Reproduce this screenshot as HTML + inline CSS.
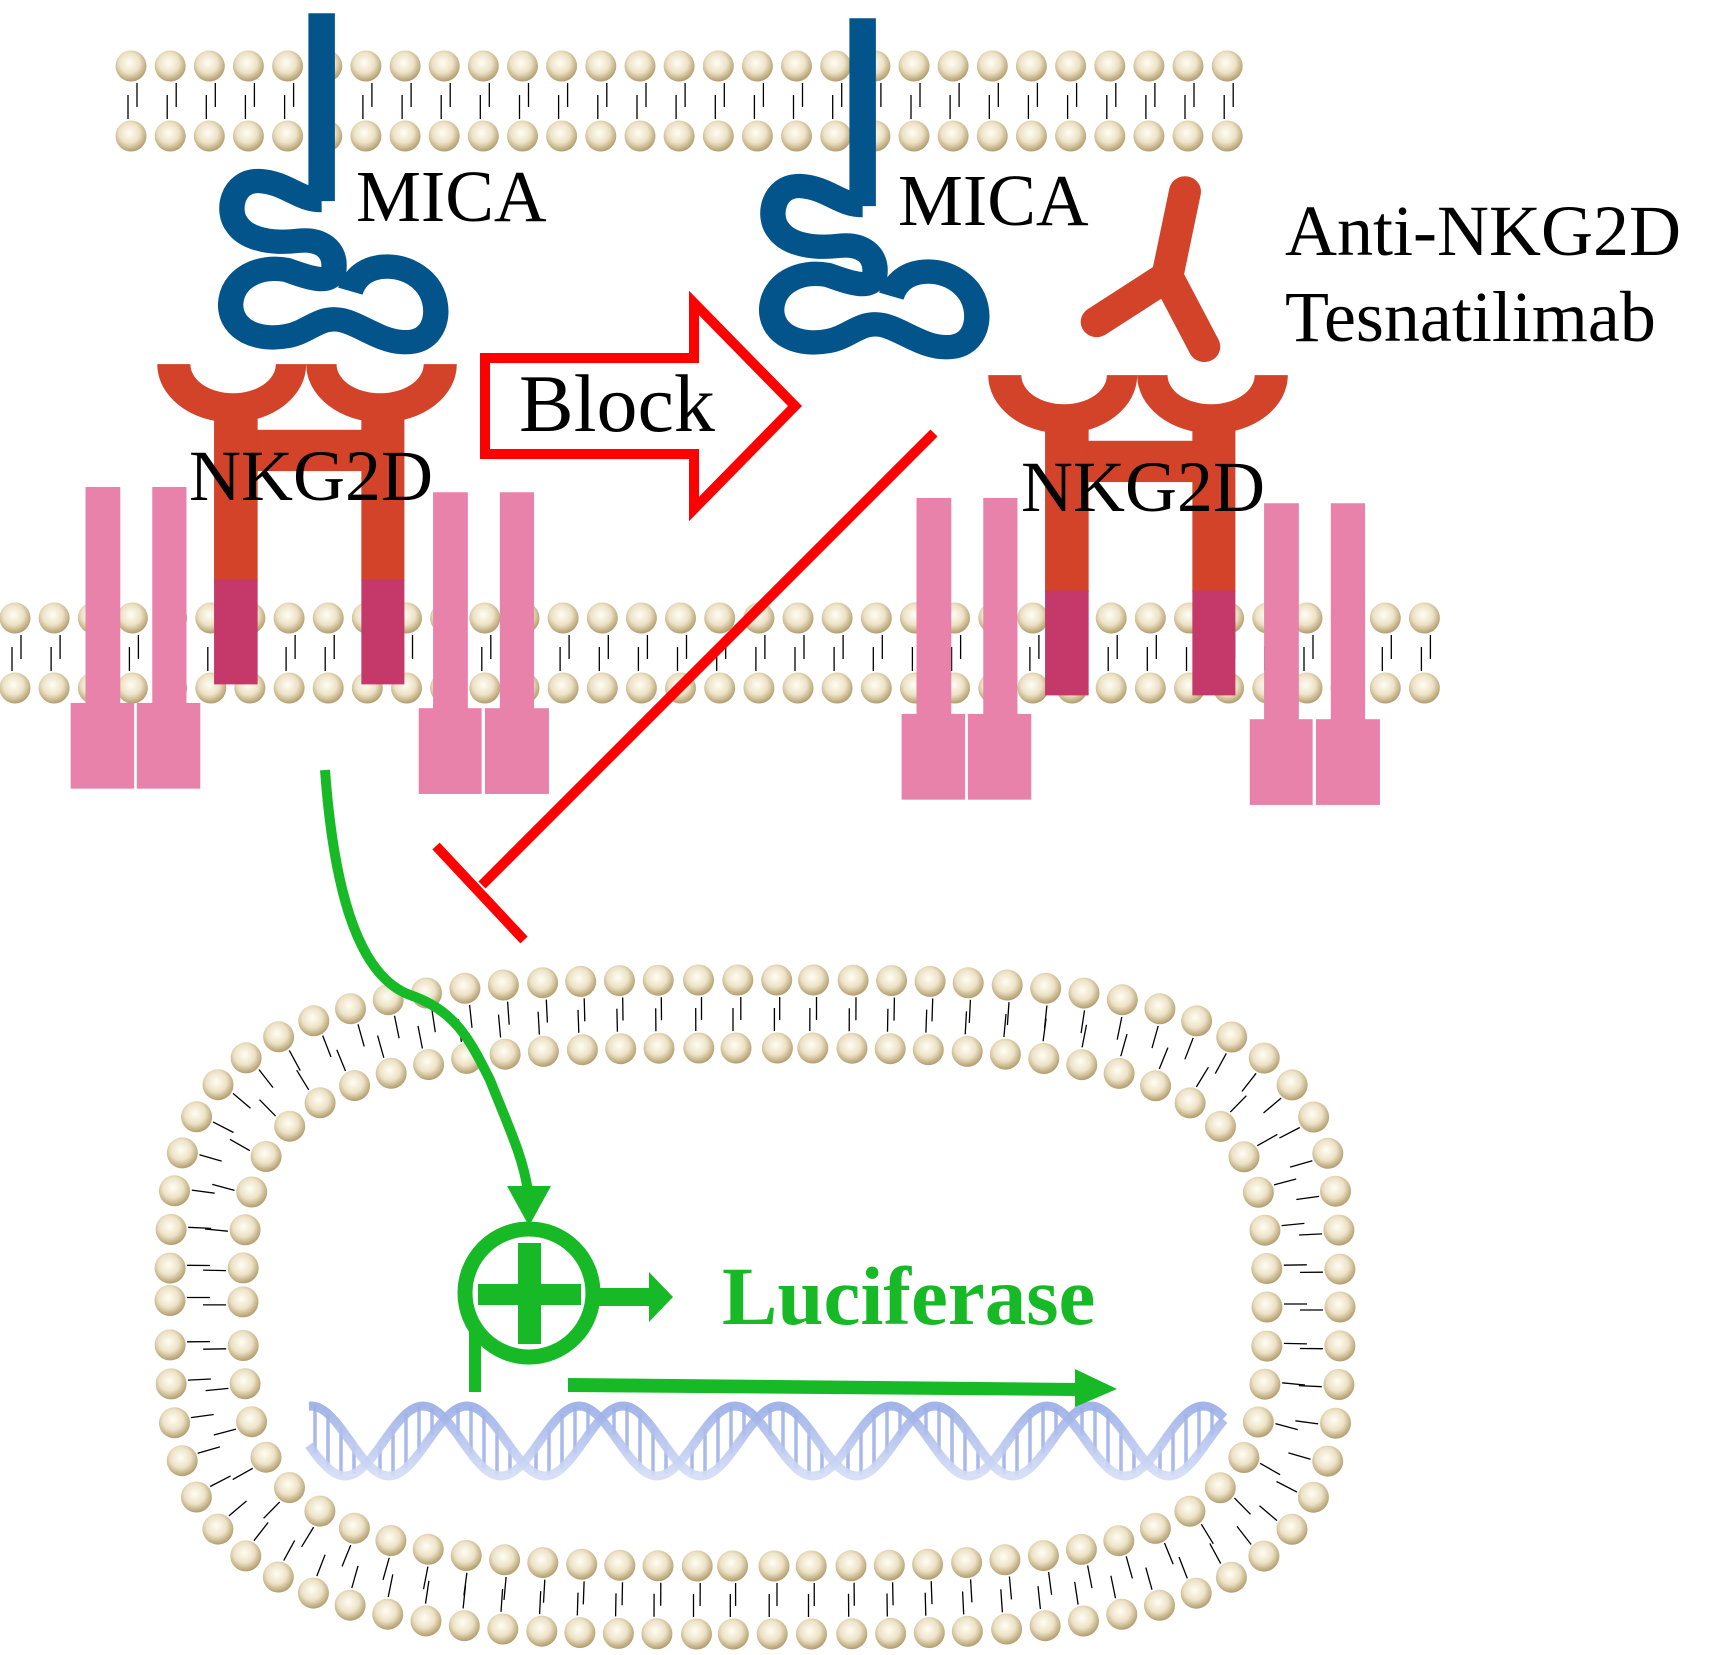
<!DOCTYPE html>
<html><head><meta charset="utf-8"><style>
html,body{margin:0;padding:0;background:#fff;}
svg{display:block;}
text{font-family:"Liberation Serif",serif;}
</style></head><body>
<svg id="s" width="1730" height="1655" viewBox="0 0 1730 1655" xmlns="http://www.w3.org/2000/svg">
<defs>
<radialGradient id="hg" cx="45%" cy="40%" r="60%">
<stop offset="0" stop-color="#FFFDF5"/><stop offset="0.55" stop-color="#EDE2C6"/><stop offset="1" stop-color="#B19C6C"/>
</radialGradient>
<linearGradient id="dg" x1="0" y1="0" x2="0" y2="1">
<stop offset="0" stop-color="#98ACE6"/><stop offset="1" stop-color="#D4DDF6"/>
</linearGradient>
</defs>
<g id="mem"></g>
<g id="dna"></g>

<g transform="scale(0.5517,0.5293)" fill="none" stroke="#03548A" stroke-width="46">
<line x1="583" y1="25" x2="583" y2="380" stroke-width="48"/>
<path d="M583,378 C540,378 520,345 470,342 C420,340 410,400 430,425 C450,455 500,460 540,455 C580,450 610,470 605,510 C600,540 560,525 520,510 C470,500 420,525 418,575 C418,625 470,645 520,635 C560,628 580,595 620,605 C660,615 700,655 750,645 C795,635 800,575 775,540 C745,500 690,495 660,515 C645,525 638,540 635,550"/>
</g>
<g transform="translate(541,5)"><g transform="scale(0.5517,0.5293)" fill="none" stroke="#03548A" stroke-width="46">
<line x1="583" y1="25" x2="583" y2="380" stroke-width="48"/>
<path d="M583,378 C540,378 520,345 470,342 C420,340 410,400 430,425 C450,455 500,460 540,455 C580,450 610,470 605,510 C600,540 560,525 520,510 C470,500 420,525 418,575 C418,625 470,645 520,635 C560,628 580,595 620,605 C660,615 700,655 750,645 C795,635 800,575 775,540 C745,500 690,495 660,515 C645,525 638,540 635,550"/>
</g></g>

<g id="rec">
<g transform="scale(0.5517,0.5293)">
<path fill="#D2432A" d="M285,688 A135,110 0 0 0 555,688 L500,688 A77.5,55 0 0 1 345,688 Z"/>
<path fill="#D2432A" d="M555,688 A136.5,110 0 0 0 828,688 L768,688 A79,55 0 0 1 610,688 Z"/>
<rect x="388" y="780" width="79" height="318" fill="#D2432A"/>
<rect x="655" y="780" width="78" height="318" fill="#D2432A"/>
<rect x="465" y="812" width="192" height="78" fill="#D2432A"/>
<rect x="388" y="1095" width="79" height="198" fill="#C5396A"/>
<rect x="655" y="1095" width="78" height="198" fill="#C5396A"/>
<g fill="#E882AA">
<rect x="155" y="920" width="63" height="410"/><rect x="276" y="920" width="62" height="410"/>
<rect x="128" y="1328" width="115" height="162"/><rect x="248" y="1328" width="115" height="162"/>
<rect x="785" y="930" width="63" height="410"/><rect x="906" y="930" width="62" height="410"/>
<rect x="759" y="1338" width="114" height="162"/><rect x="879" y="1338" width="116" height="162"/>
</g>
</g>
</g>
<use href="#rec" transform="translate(831,11)"/>

<g transform="translate(865,0) scale(0.5517,0.5293)">
<polyline points="580,362 548,522 420,608" fill="none" stroke="#D2432A" stroke-width="58" stroke-linecap="round" stroke-linejoin="round"/>
<polyline points="548,522 615,655" fill="none" stroke="#D2432A" stroke-width="58" stroke-linecap="round"/>
</g>

<polygon points="485,358 694,358 694,303 795,406 694,509 694,454 485,454" fill="#fff" stroke="#FF0000" stroke-width="10"/>
<text x="519" y="431" font-size="82">Block</text>

<text x="356" y="221" font-size="73">MICA</text>
<text x="898" y="225" font-size="73">MICA</text>
<text x="189" y="500" font-size="72">NKG2D</text>
<text x="1021" y="511" font-size="72">NKG2D</text>
<text x="1285" y="255" font-size="72">Anti-NKG2D</text>
<text x="1285" y="341" font-size="72">Tesnatilimab</text>

<line x1="934" y1="433" x2="482" y2="885" stroke="#FF0000" stroke-width="10"/>
<line x1="436" y1="846" x2="524" y2="940" stroke="#FF0000" stroke-width="10"/>

<path d="M325,770 C333,880 355,975 410,995 C455,1010 470,1040 490,1080 C510,1130 524,1160 528,1192" fill="none" stroke="#17B927" stroke-width="10"/>
<polygon points="507,1186 551,1186 529,1226" fill="#17B927"/>
<circle cx="529" cy="1293" r="64" fill="none" stroke="#17B927" stroke-width="15"/>
<rect x="518" y="1243" width="23" height="101" fill="#17B927"/>
<rect x="478" y="1284" width="103" height="21" fill="#17B927"/>
<rect x="469" y="1330" width="12" height="62" fill="#17B927"/>
<rect x="598" y="1288" width="53" height="18" fill="#17B927"/>
<polygon points="649,1272 673,1297 649,1322" fill="#17B927"/>
<text x="722" y="1324" font-size="83" font-weight="bold" fill="#17B927">Luciferase</text>
<polygon points="568,1378 1078,1383 1078,1396 568,1392" fill="#17B927"/>
<polygon points="1075,1369 1117,1389 1075,1407" fill="#17B927"/>
</svg>
<script>
var NS="http://www.w3.org/2000/svg";
var mem=document.getElementById("mem"), dna=document.getElementById("dna");
function el(t,a,p){var e=document.createElementNS(NS,t);for(var k in a)e.setAttribute(k,a[k]);(p||mem).appendChild(e);return e;}
function head(x,y){el("circle",{cx:x.toFixed(1),cy:y.toFixed(1),r:15.5,fill:"url(#hg)"});}
function ln(x1,y1,x2,y2,p){el("line",{x1:x1.toFixed(1),y1:y1.toFixed(1),x2:x2.toFixed(1),y2:y2.toFixed(1),stroke:"#000","stroke-width":1.3},p);}
function straight(x0,n,yt,yb){for(var i=0;i<n;i++){var c=x0+i*39.15;ln(c+6,yt+17,c+6,yt+41);ln(c-3,yb-41,c-3,yb-17);}
 for(var i=0;i<n;i++){var c=x0+i*39.15;head(c,yt);head(c,yb);}}
straight(131,29,66,136);
straight(15,37,618,688);
var cx=755,cy=1307,N=3.5;
function ring(a,b,sp){var pts=[],M=6000,L=0,prev=null;
 for(var i=0;i<=M;i++){var t=i/M*2*Math.PI,c=Math.cos(t),s=Math.sin(t);
  var x=cx+a*Math.sign(c)*Math.pow(Math.abs(c),2/N),y=cy+b*Math.sign(s)*Math.pow(Math.abs(s),2/N);
  if(prev)L+=Math.hypot(x-prev[0],y-prev[1]);pts.push([x,y,L]);prev=[x,y];}
 var n=Math.round(L/sp),step=L/n,out=[],j=0;
 for(var k=0;k<n;k++){var d=k*step;while(pts[j][2]<d)j++;var p=pts[j];
  var dx=(p[0]-cx)/a,dy=(p[1]-cy)/b;
  var nx=Math.sign(dx)*Math.pow(Math.abs(dx),N-1)/a,ny=Math.sign(dy)*Math.pow(Math.abs(dy),N-1)/b;var m=Math.hypot(nx,ny);
  out.push([p[0],p[1],nx/m,ny/m]);}
 return out;}
var O=ring(585,327,38.6),I=ring(512,259,38.6);
O.forEach(function(p){var tx=-p[3],ty=p[2];ln(p[0]-p[2]*17+tx*3,p[1]-p[3]*17+ty*3,p[0]-p[2]*40+tx*3,p[1]-p[3]*40+ty*3);});
I.forEach(function(p){var tx=-p[3],ty=p[2];ln(p[0]+p[2]*17-tx*3,p[1]+p[3]*17-ty*3,p[0]+p[2]*40-tx*3,p[1]+p[3]*40-ty*3);});
O.forEach(function(p){head(p[0],p[1]);});
I.forEach(function(p){head(p[0],p[1]);});
var P=156,x0=309,x1=1224,ym=1441,A=35;
function strand(ph){var d="";for(var x=x0;x<=x1;x+=3){var y=ym-A*Math.cos(2*Math.PI*(x-ph)/P);d+=(x==x0?"M":"L")+x+","+y.toFixed(1);}
 el("path",{d:d,fill:"none",stroke:"url(#dg)","stroke-width":9,"stroke-opacity":0.9},dna);}
for(var x=x0+6;x<x1;x+=13){var y1=ym-A*Math.cos(2*Math.PI*(x-423)/P),y2=ym-A*Math.cos(2*Math.PI*(x-467)/P);
 el("line",{x1:x,y1:Math.min(y1,y2),x2:x,y2:Math.max(y1,y2),stroke:"#A9B9EA","stroke-width":3.5},dna);}
strand(423);strand(467);
</script>
</body></html>
